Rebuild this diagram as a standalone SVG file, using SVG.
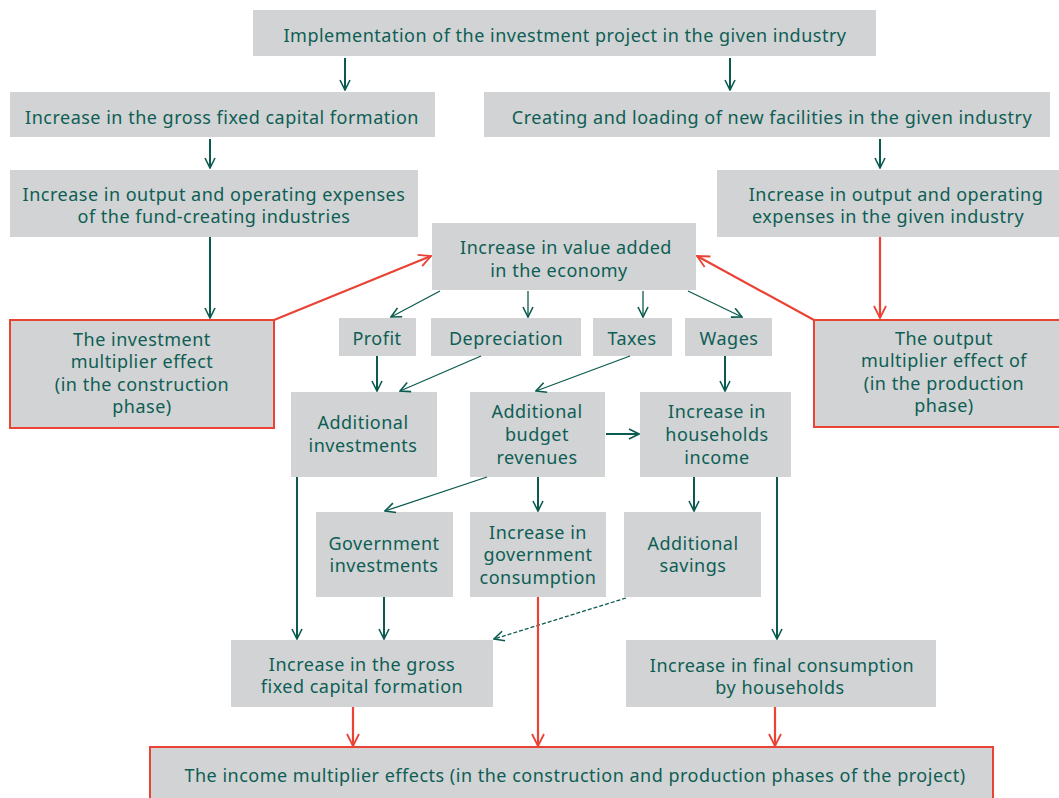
<svg xmlns="http://www.w3.org/2000/svg" width="1059" height="798" viewBox="0 0 1059 798">
<style>
.b{fill:#d1d3d4}
.r{fill:#d1d3d4;stroke:#ea4335;stroke-width:2}
text{font-family:"Noto Sans","Liberation Sans",sans-serif;font-size:18px;letter-spacing:0.5px;fill:#0e5e55;text-anchor:middle}
.g{stroke:#0b5a4f;stroke-width:2;fill:none}
.gt{stroke:#0b5a4f;stroke-width:1.3;fill:none}
.rd{stroke:#ea4335;stroke-width:2.2;fill:none}
.ds{stroke:#0b5a4f;stroke-width:1.3;fill:none;stroke-dasharray:4 2}
</style>
<defs>
<marker id="ag" viewBox="0 0 12 12" refX="11" refY="6" markerWidth="12" markerHeight="12" markerUnits="userSpaceOnUse" orient="auto">
<path d="M1,1 L11,6 L1,11" fill="none" stroke="#0b5a4f" stroke-width="1.6"/>
</marker>
<marker id="ar" viewBox="0 0 14 14" refX="13" refY="7" markerWidth="14" markerHeight="14" markerUnits="userSpaceOnUse" orient="auto">
<path d="M1,1 L13,7 L1,13" fill="none" stroke="#ea4335" stroke-width="1.8"/>
</marker>
</defs>

<g id="n1"><rect class="b" x="253" y="10" width="623" height="46"/><text x="565" y="42">Implementation of the investment project in the given industry</text></g>
<g id="n2"><rect class="b" x="10" y="92" width="425" height="45"/><text x="222" y="124">Increase in the gross fixed capital formation</text></g>
<g id="n3"><rect class="b" x="484" y="92" width="566" height="45"/><text x="772" y="124">Creating and loading of new facilities in the given industry</text></g>
<g id="n4"><rect class="b" x="10" y="170" width="408" height="67"/><text x="214" y="201">Increase in output and operating expenses</text><text x="214" y="223">of the fund-creating industries</text></g>
<g id="n5"><rect class="b" x="717" y="170" width="342" height="67"/><text x="896" y="201">Increase in output and operating</text><text x="888" y="223">expenses in the given industry</text></g>
<g id="n6"><rect class="b" x="432" y="223" width="264" height="67"/><text x="566" y="254">Increase in value added</text><text x="559" y="277">in the economy</text></g>
<g id="n7"><rect class="r" x="10" y="320" width="264" height="108"/><text x="142" y="346">The investment</text><text x="142" y="368">multiplier effect</text><text x="142" y="391">(in the construction</text><text x="142" y="413">phase)</text></g>
<g id="n8"><rect class="r" x="814" y="320" width="246" height="107"/><text x="944" y="345">The output</text><text x="944" y="367">multiplier effect of</text><text x="944" y="390">(in the production</text><text x="944" y="412">phase)</text></g>
<g id="n9"><rect class="b" x="339" y="318" width="77" height="38"/><text x="377" y="345">Profit</text></g>
<g id="n10"><rect class="b" x="431" y="318" width="150" height="38"/><text x="506" y="345">Depreciation</text></g>
<g id="n11"><rect class="b" x="593" y="318" width="79" height="38"/><text x="632" y="345">Taxes</text></g>
<g id="n12"><rect class="b" x="685" y="318" width="87" height="38"/><text x="729" y="345">Wages</text></g>
<g id="n13"><rect class="b" x="291" y="392" width="146" height="85"/><text x="363" y="429">Additional</text><text x="363" y="452">investments</text></g>
<g id="n14"><rect class="b" x="470" y="392" width="135" height="85"/><text x="537" y="418">Additional</text><text x="537" y="441">budget</text><text x="537" y="464">revenues</text></g>
<g id="n15"><rect class="b" x="640" y="392" width="151" height="85"/><text x="717" y="418">Increase in</text><text x="717" y="441">households</text><text x="717" y="464">income</text></g>
<g id="n16"><rect class="b" x="316" y="512" width="137" height="85"/><text x="384" y="550">Government</text><text x="384" y="572">investments</text></g>
<g id="n17"><rect class="b" x="470" y="512" width="136" height="85"/><text x="538" y="539">Increase in</text><text x="538" y="561">government</text><text x="538" y="584">consumption</text></g>
<g id="n18"><rect class="b" x="624" y="512" width="137" height="85"/><text x="693" y="550">Additional</text><text x="693" y="572">savings</text></g>
<g id="n19"><rect class="b" x="231" y="640" width="262" height="67"/><text x="362" y="671">Increase in the gross</text><text x="362" y="693">fixed capital formation</text></g>
<g id="n20"><rect class="b" x="626" y="640" width="310" height="67"/><text x="782" y="672">Increase in final consumption</text><text x="780" y="694">by households</text></g>
<g id="n21"><rect class="r" x="150" y="747" width="843" height="56"/><text x="575" y="782">The income multiplier effects (in the construction and production phases of the project)</text></g>

<g id="connectors">
<line class="g" x1="345" y1="58" x2="345" y2="90" marker-end="url(#ag)"/>
<line class="g" x1="730" y1="58" x2="730" y2="90" marker-end="url(#ag)"/>
<line class="g" x1="210" y1="139" x2="210" y2="168" marker-end="url(#ag)"/>
<line class="g" x1="880" y1="139" x2="880" y2="168" marker-end="url(#ag)"/>
<line class="g" x1="210" y1="237" x2="210" y2="318" marker-end="url(#ag)"/>
<line class="rd" x1="880" y1="237" x2="880" y2="318" marker-end="url(#ar)"/>
<line class="rd" x1="274" y1="320" x2="431" y2="256" marker-end="url(#ar)"/>
<line class="rd" x1="814" y1="320" x2="697" y2="256" marker-end="url(#ar)"/>
<line class="gt" x1="440" y1="291" x2="391" y2="317" marker-end="url(#ag)"/>
<line class="gt" x1="528" y1="291" x2="528" y2="317" marker-end="url(#ag)"/>
<line class="gt" x1="643" y1="291" x2="643" y2="317" marker-end="url(#ag)"/>
<line class="gt" x1="688" y1="291" x2="742" y2="317" marker-end="url(#ag)"/>
<line class="g" x1="377" y1="356" x2="377" y2="391" marker-end="url(#ag)"/>
<line class="gt" x1="481" y1="356" x2="400" y2="391" marker-end="url(#ag)"/>
<line class="gt" x1="630" y1="356" x2="536" y2="391" marker-end="url(#ag)"/>
<line class="g" x1="725" y1="356" x2="725" y2="391" marker-end="url(#ag)"/>
<line class="g" x1="606" y1="434" x2="639" y2="434" marker-end="url(#ag)"/>
<line class="gt" x1="487" y1="477" x2="385" y2="511" marker-end="url(#ag)"/>
<line class="g" x1="538" y1="477" x2="538" y2="511" marker-end="url(#ag)"/>
<line class="g" x1="694" y1="477" x2="694" y2="511" marker-end="url(#ag)"/>
<line class="g" x1="297" y1="477" x2="297" y2="639" marker-end="url(#ag)"/>
<line class="g" x1="777" y1="477" x2="777" y2="639" marker-end="url(#ag)"/>
<line class="g" x1="384" y1="597" x2="384" y2="639" marker-end="url(#ag)"/>
<line class="ds" x1="626" y1="598" x2="494" y2="639" marker-end="url(#ag)"/>
<line class="rd" x1="538" y1="597" x2="538" y2="746" marker-end="url(#ar)"/>
<line class="rd" x1="353" y1="707" x2="353" y2="746" marker-end="url(#ar)"/>
<line class="rd" x1="775" y1="707" x2="775" y2="746" marker-end="url(#ar)"/>
</g>
</svg>
